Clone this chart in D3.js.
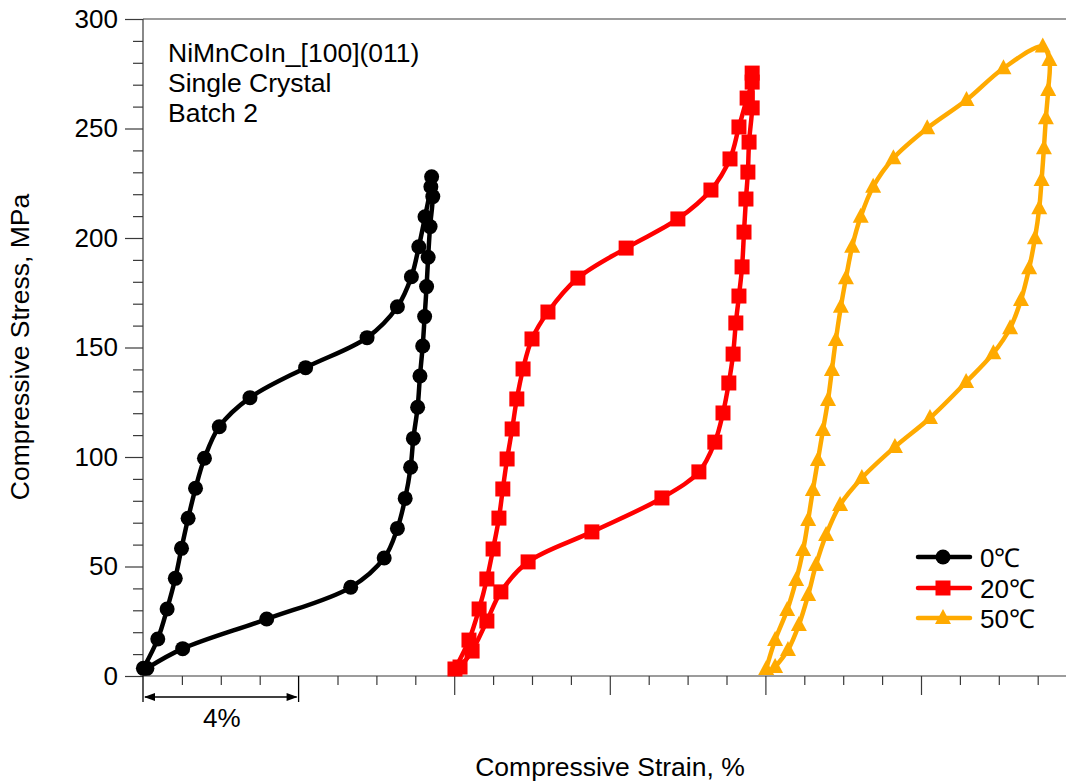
<!DOCTYPE html>
<html>
<head>
<meta charset="utf-8">
<script src="https://cdn.jsdelivr.net/npm/d3@7"></script>
<style>
  html, body { margin: 0; padding: 0; background: #fff; }
  svg { display: block; font-family: "Liberation Sans", Arial, Helvetica, sans-serif; }
</style>
</head>
<body>
<svg id="chart" width="1066" height="782"></svg>
<script>
// Stress-strain loops of NiMnCoIn [100](011) single crystal, each loop offset along strain.
const seriesNames = ["0\u2103", "20\u2103", "50\u2103"];
const seriesColors = ["#000000", "#ff0000", "#ffaa00"];

// 0 °C loop: loading then unloading
const strain0 = [0.01, 0.38, 0.62, 0.83, 0.99, 1.16, 1.35, 1.58, 1.96, 2.75, 4.18, 5.76, 6.54, 6.90, 7.09, 7.25, 7.40, 7.42,
                 7.45, 7.38, 7.33, 7.29, 7.24, 7.19, 7.12, 7.06, 6.95, 6.88, 6.74, 6.54, 6.20, 5.34, 3.18, 1.02, 0.10];
const stress0 = [3.5, 16.9, 30.6, 44.6, 58.3, 72.0, 85.7, 99.4, 113.8, 127.1, 140.8, 154.5, 168.6, 182.3, 196.0, 209.7, 223.4, 228.0,
                 218.9, 205.2, 191.2, 177.8, 164.1, 150.7, 137.0, 122.7, 108.5, 95.3, 81.1, 67.4, 53.9, 40.5, 26.0, 12.5, 3.5];

// 20 °C loop
const strain20 = [8.02, 8.38, 8.64, 8.84, 9.00, 9.15, 9.25, 9.36, 9.49, 9.61, 9.77, 10.00, 10.41, 11.18, 12.42, 13.75, 14.60, 15.09, 15.32, 15.53, 15.66, 15.66,
                  15.66, 15.58, 15.55, 15.50, 15.45, 15.40, 15.32, 15.24, 15.17, 15.06, 14.91, 14.70, 14.29, 13.34, 11.54, 9.90, 9.20, 8.84, 8.46, 8.15];
const stress20 = [3.2, 16.4, 30.6, 44.3, 58.0, 72.1, 85.4, 99.1, 112.8, 126.5, 140.2, 153.9, 166.2, 181.7, 195.4, 208.7, 221.9, 236.1, 250.7, 263.9, 271.2, 275.3,
                  259.4, 243.8, 230.1, 217.8, 202.7, 186.8, 173.5, 161.2, 147.0, 133.8, 120.1, 106.8, 93.2, 81.3, 65.8, 52.1, 38.4, 25.1, 11.4, 4.1];

// 50 °C loop
const strain50 = [16.02, 16.25, 16.56, 16.79, 16.97, 17.10, 17.22, 17.35, 17.48, 17.61, 17.71, 17.81, 17.94, 18.07, 18.23, 18.45, 18.77, 19.29, 20.16, 21.17, 22.12, 23.13,
                  23.30, 23.27, 23.21, 23.16, 23.10, 23.04, 22.93, 22.78, 22.57, 22.29, 21.86, 21.16, 20.23, 19.33, 18.48, 17.92, 17.56, 17.30, 17.10, 16.86, 16.58, 16.25];
const stress50 = [3.2, 16.4, 30.1, 43.8, 57.5, 71.2, 84.9, 98.6, 112.3, 126.0, 139.7, 153.4, 168.6, 181.6, 196.0, 209.7, 223.4, 236.4, 250.1, 263.0, 277.5, 287.4,
                  281.3, 267.6, 254.7, 241.0, 226.5, 213.6, 199.9, 186.2, 171.7, 158.8, 147.4, 134.2, 117.8, 104.6, 90.4, 78.1, 64.4, 50.7, 37.0, 23.3, 11.9, 4.1];

const stressTicks = [0, 50, 100, 150, 200, 250, 300];
const strainMajorTicks = [8, 12, 16, 20];
const scaleBarStrain = [0, 4];
const scaleBarLabel = "4%";
const noteLines = ["NiMnCoIn_[100](011)", "Single Crystal", "Batch 2"];

(function draw() {
  const svg = d3.select("#chart");
  const W = 1066;
  const plotLeft = 143, plotBottom = 676, plotTop = 19;
  const pxPerStrain = 38.9;

  const x = d3.scaleLinear().domain([0, (W - plotLeft) / pxPerStrain]).range([plotLeft, W]);
  const y = d3.scaleLinear().domain([0, 300]).range([plotBottom, plotTop]);

  const axisColor = "#3a3a3a";

  // top frame line
  svg.append("line")
    .attr("x1", plotLeft).attr("x2", W).attr("y1", y(300)).attr("y2", y(300))
    .attr("stroke", axisColor).attr("stroke-width", 1.2);

  // y axis: minor every 10, major every 50
  const yMinor = d3.range(0, 301, 10).filter(v => v % 50 !== 0);
  svg.append("g").attr("transform", `translate(${plotLeft},0)`)
    .call(d3.axisLeft(y).tickValues(yMinor).tickSize(10).tickFormat(""))
    .call(g => g.select(".domain").remove());
  svg.append("g").attr("transform", `translate(${plotLeft},0)`)
    .call(d3.axisLeft(y).tickValues(stressTicks).tickSize(18).tickPadding(7))
    .call(g => g.select(".domain").remove())
    .call(g => g.selectAll("text").attr("font-size", 26).attr("fill", "#000")
                  .attr("font-family", "'Liberation Sans', Arial, sans-serif"));

  // x axis: minor every 1 %, major every 4 % from 8 %
  const xMinor = d3.range(1, 24).filter(v => !strainMajorTicks.includes(v) && !scaleBarStrain.includes(v));
  svg.append("g").attr("transform", `translate(0,${plotBottom})`)
    .call(d3.axisBottom(x).tickValues(xMinor).tickSize(9).tickFormat(""))
    .call(g => g.select(".domain").remove());
  svg.append("g").attr("transform", `translate(0,${plotBottom})`)
    .call(d3.axisBottom(x).tickValues(strainMajorTicks).tickSize(19).tickFormat(""))
    .call(g => g.select(".domain").attr("d", `M${plotLeft},0H${W}`));

  svg.selectAll(".tick line").attr("stroke", axisColor).attr("stroke-width", 1.2);
  svg.selectAll(".domain").attr("stroke", axisColor).attr("stroke-width", 1.2);
  // y axis line
  svg.append("line").attr("x1", plotLeft).attr("x2", plotLeft).attr("y1", plotTop).attr("y2", plotBottom)
    .attr("stroke", axisColor).attr("stroke-width", 1.2);

  // 4 % scale bar under the strain axis
  const barY = 697;
  const sb = svg.append("g").attr("stroke", "#000").attr("stroke-width", 1.3);
  scaleBarStrain.forEach(v => {
    sb.append("line").attr("x1", x(v)).attr("x2", x(v)).attr("y1", plotBottom).attr("y2", 702);
  });
  sb.append("line").attr("x1", x(scaleBarStrain[0]) + 2).attr("x2", x(scaleBarStrain[1]) - 2)
    .attr("y1", barY).attr("y2", barY);
  svg.append("path")
    .attr("d", `M${x(scaleBarStrain[0]) + 1},${barY} l11,-4 l0,8 Z M${x(scaleBarStrain[1]) - 1},${barY} l-11,-4 l0,8 Z`)
    .attr("fill", "#000");
  svg.append("text").attr("x", (x(scaleBarStrain[0]) + x(scaleBarStrain[1])) / 2 + 1).attr("y", 727)
    .attr("text-anchor", "middle").attr("font-size", 26).text(scaleBarLabel);

  // axis titles
  svg.append("text").attr("x", 610).attr("y", 776).attr("text-anchor", "middle")
    .attr("font-size", 26.5).text("Compressive Strain, %");
  svg.append("text").attr("transform", `translate(29,347) rotate(-90)`)
    .attr("text-anchor", "middle").attr("font-size", 26.5).text("Compressive Stress, MPa");

  // sample note
  noteLines.forEach((t, i) => {
    svg.append("text").attr("x", 168).attr("y", 62 + i * 30).attr("font-size", 26.5).text(t);
  });

  // curves
  const series = [
    { strain: strain0, stress: stress0 },
    { strain: strain20, stress: stress20 },
    { strain: strain50, stress: stress50 }
  ];
  const line = d3.line().x(d => x(d[0])).y(d => y(d[1])).curve(d3.curveCatmullRom.alpha(0.5));

  function drawMarker(g, i, cx, cy) {
    if (i === 0) {
      g.append("circle").attr("cx", cx).attr("cy", cy).attr("r", 7.5).attr("fill", seriesColors[i]);
    } else if (i === 1) {
      g.append("rect").attr("x", cx - 7.5).attr("y", cy - 7.5).attr("width", 15).attr("height", 15)
        .attr("fill", seriesColors[i]);
    } else {
      g.append("path").attr("d", `M${cx},${cy - 9} L${cx + 8},${cy + 6} L${cx - 8},${cy + 6} Z`)
        .attr("fill", seriesColors[i]);
    }
  }

  series.forEach((s, i) => {
    const pts = s.strain.map((v, k) => [v, s.stress[k]]);
    const g = svg.append("g");
    g.append("path").attr("d", line(pts)).attr("fill", "none")
      .attr("stroke", seriesColors[i]).attr("stroke-width", 4.5)
      .attr("stroke-linejoin", "round").attr("stroke-linecap", "round");
    pts.forEach(p => drawMarker(g, i, x(p[0]), y(p[1])));
  });

  // legend
  const legendY = [557, 588, 618];
  seriesNames.forEach((name, i) => {
    const g = svg.append("g");
    g.append("line").attr("x1", 918).attr("x2", 970).attr("y1", legendY[i]).attr("y2", legendY[i])
      .attr("stroke", seriesColors[i]).attr("stroke-width", 4.5).attr("stroke-linecap", "round");
    drawMarker(g, i, 943, legendY[i]);
    g.append("text").attr("x", 980).attr("y", legendY[i] + 9.5).attr("font-size", 26).text(name);
  });
})();
</script>
</body>
</html>
